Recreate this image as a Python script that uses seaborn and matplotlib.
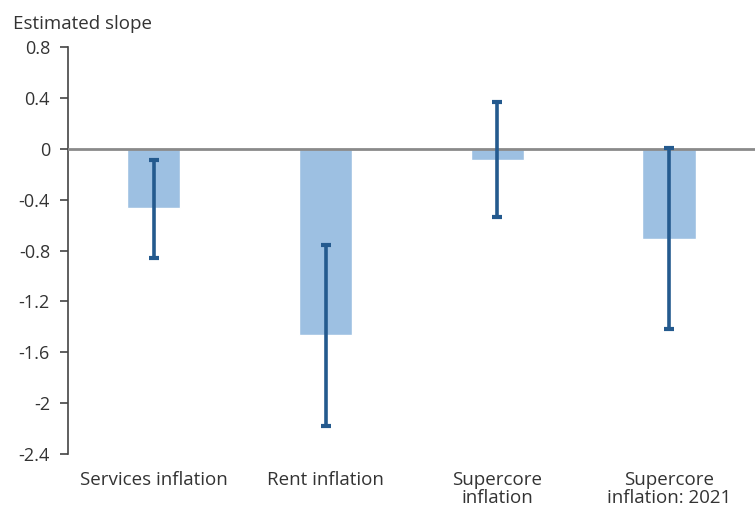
import numpy as np
import pandas as pd
import matplotlib
matplotlib.use("Agg")
import matplotlib.pyplot as plt
import seaborn as sns

# Values
categories = ["Services inflation", "Rent inflation", "Supercore\ninflation", "Supercore\ninflation: 2021"]
slopes = [-0.465, -1.46, -0.085, -0.71]
ci_low = [-0.86, -2.18, -0.54, -1.42]
ci_high = [-0.085, -0.755, 0.365, 0.01]
y_ticks = [0.8, 0.4, 0, -0.4, -0.8, -1.2, -1.6, -2, -2.4]

bar_color = "#9dc0e2"
err_color = "#245a8e"
text_color = "#333333"

sns.set_theme(style="white")
plt.rcParams['font.family'] = ['Open Sans', 'DejaVu Sans']

df = pd.DataFrame({"category": categories, "slope": slopes})

fig = plt.figure(figsize=(7.55, 5.08), dpi=100)
ax = fig.add_axes([0.090, 0.106, 0.91, 0.8015])

sns.barplot(data=df, x="category", y="slope", color=bar_color, saturation=1,
            width=0.31, ax=ax, zorder=2)

x = np.arange(len(categories))
lower = np.array(slopes) - np.array(ci_low)
upper = np.array(ci_high) - np.array(slopes)
ax.errorbar(x, slopes, yerr=[lower, upper], fmt="none", ecolor=err_color,
            elinewidth=2.6, capsize=3.6, capthick=3, zorder=4)

ax.axhline(0, color="#8a8a8a", lw=2, zorder=3)

ax.set_xlim(-0.5, 3.5)
ax.set_ylim(-2.4, 0.8)
ax.set_yticks(y_ticks)
ax.set_yticklabels([f"{t:g}" for t in y_ticks])
ax.set_xlabel("")
ax.set_ylabel("")

for side in ["top", "right", "bottom"]:
    ax.spines[side].set_visible(False)
ax.spines["left"].set_color("#444444")
ax.spines["left"].set_linewidth(1.2)

ax.tick_params(axis="y", which="both", left=True, length=6, width=1.2,
               color="#444444", labelsize=13, labelcolor=text_color, pad=7)
ax.tick_params(axis="x", bottom=False, labelsize=13.5, labelcolor=text_color, pad=6)
for lab in ax.get_xticklabels():
    lab.set_linespacing(1.0)

fig.text(0.017, 0.953, "Estimated slope", fontsize=13.5, color=text_color,
         ha="left", va="center")

fig.savefig("out.png", dpi=100)
